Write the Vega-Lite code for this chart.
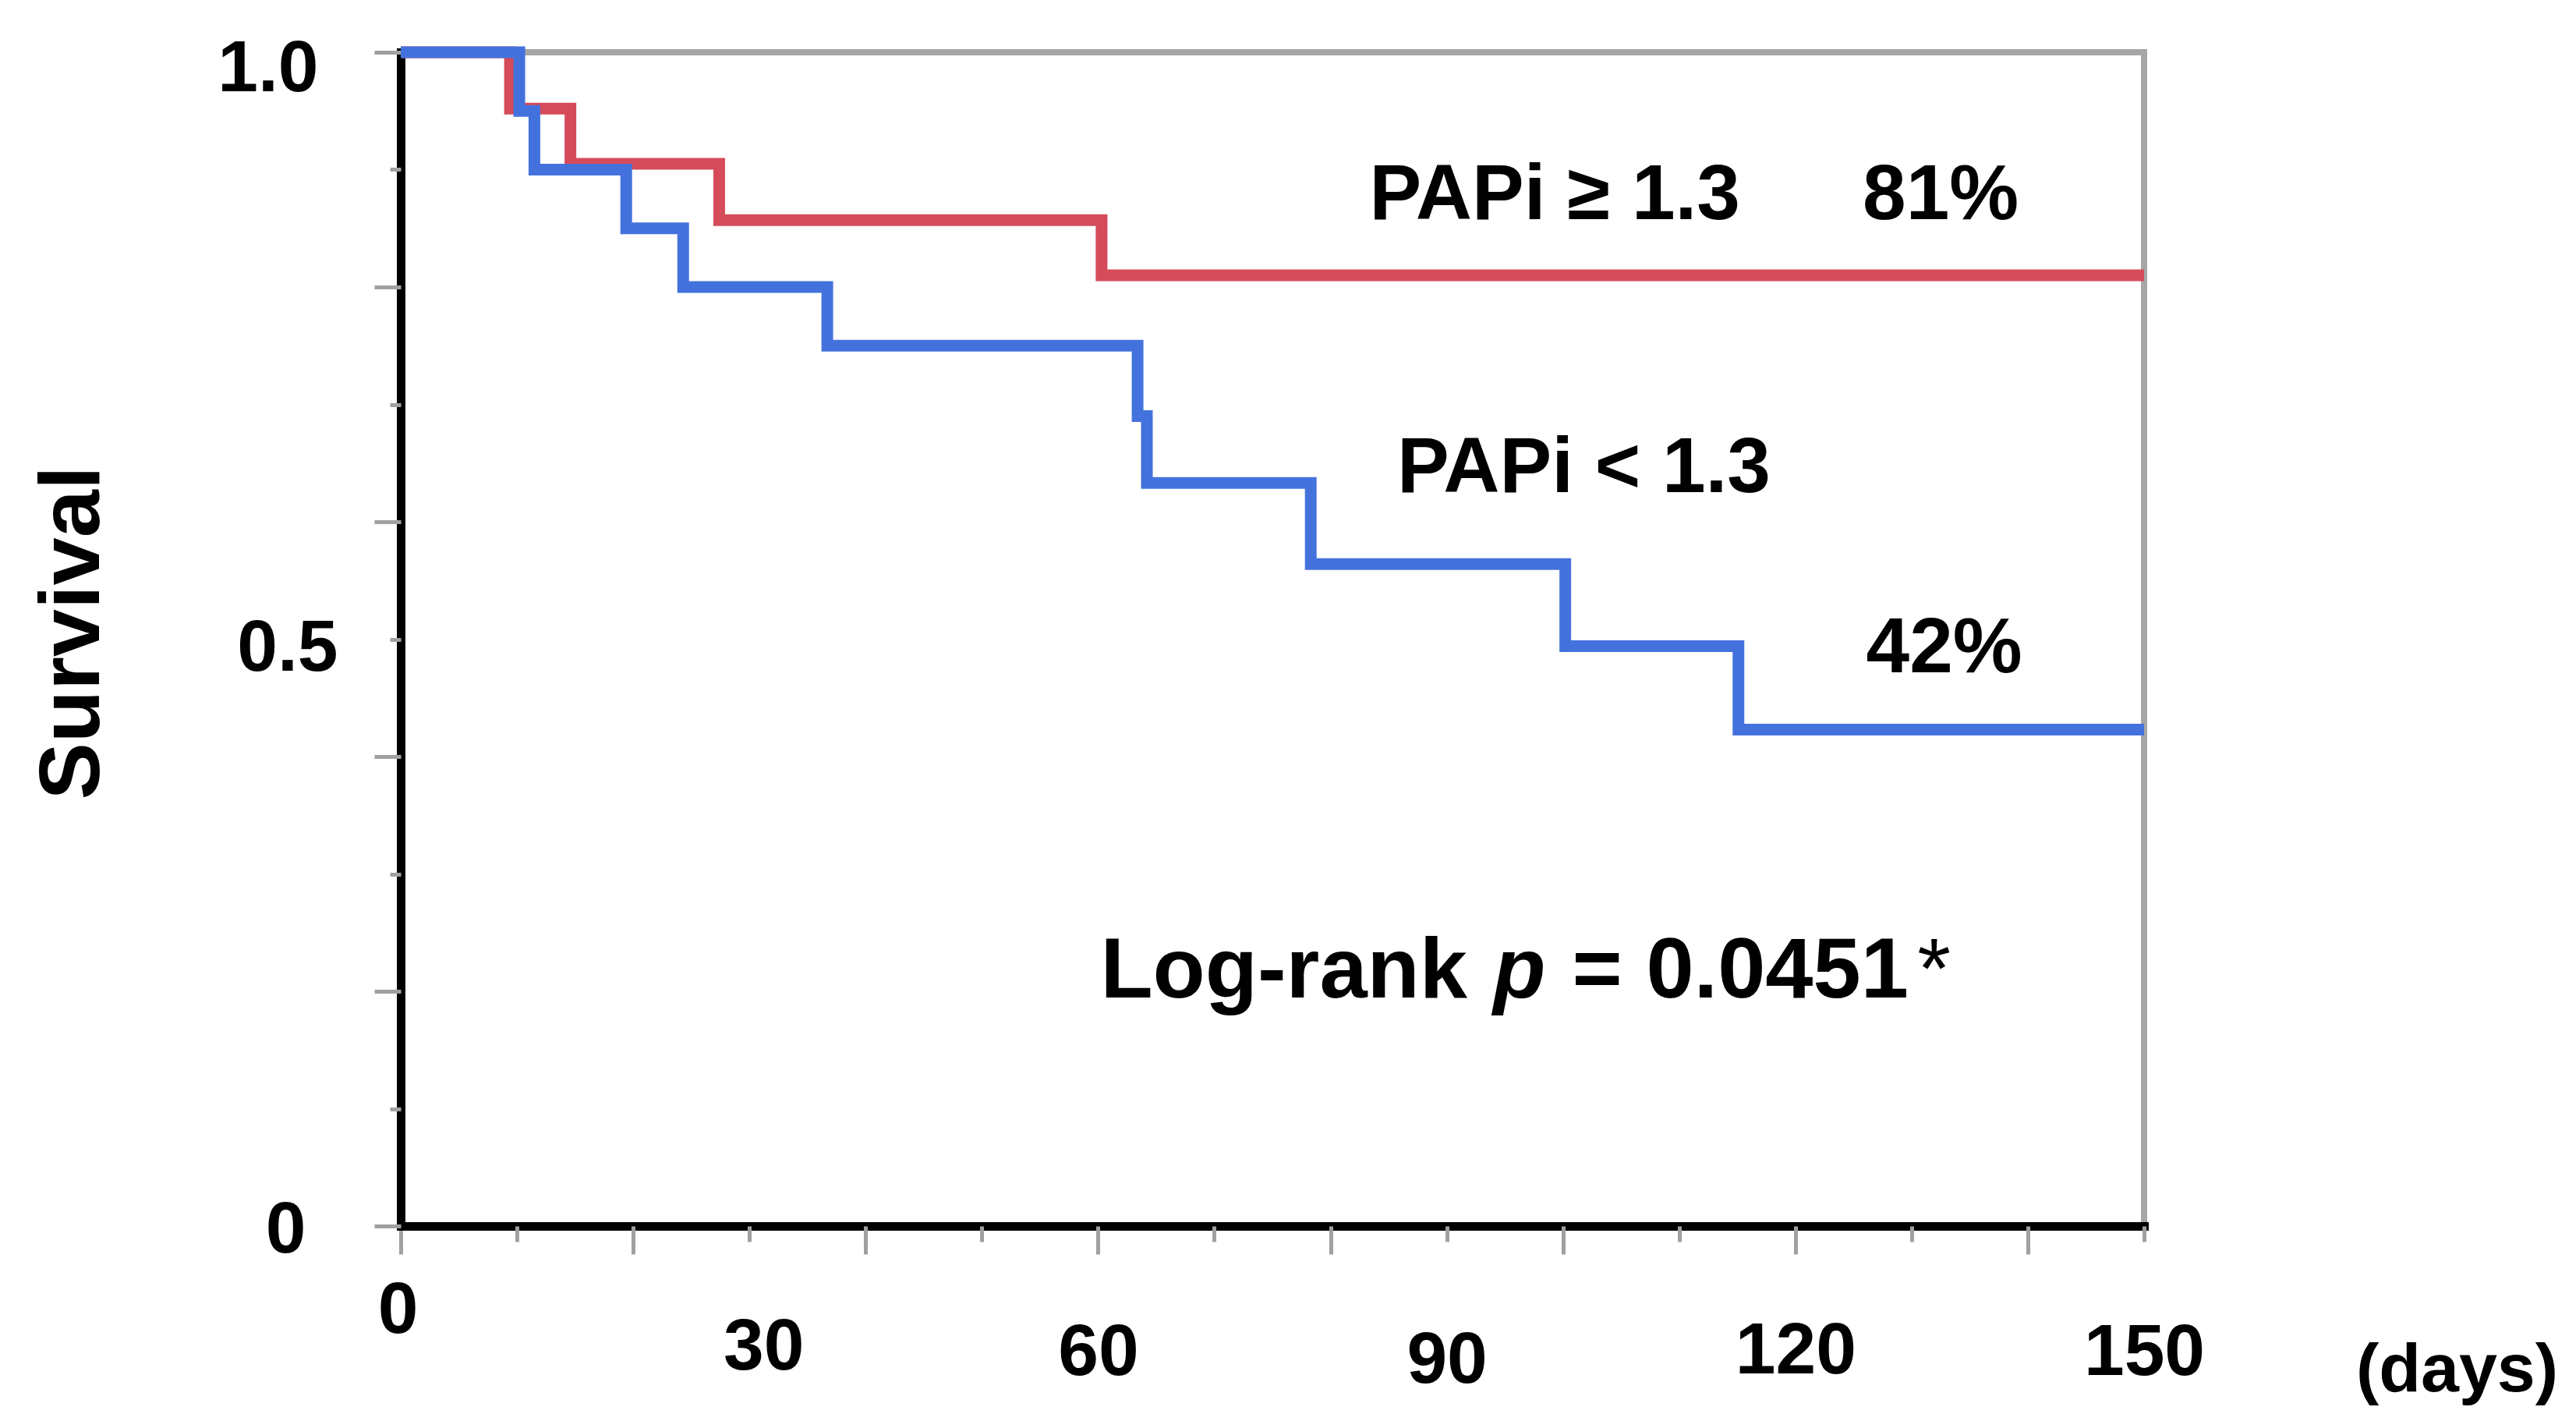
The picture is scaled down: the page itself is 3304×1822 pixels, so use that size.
{
  "$schema": "https://vega.github.io/schema/vega-lite/v6.json",
  "autosize": "none",
  "width": 2236,
  "height": 1505,
  "padding": {"left": 514, "top": 67, "right": 554, "bottom": 250},
  "background": "white",
  "config": {
    "view": {"stroke": "#A6A6A6", "strokeWidth": 8},
    "font": "Liberation Sans",
    "axis": {"grid": false, "labelFont": "Liberation Sans", "titleFont": "Liberation Sans"}
  },
  "datasets": {
    "km": [
      {"group": "PAPi ≥ 1.3", "day": 0, "surv": 1},
      {"group": "PAPi ≥ 1.3", "day": 9.4, "surv": 0.952},
      {"group": "PAPi ≥ 1.3", "day": 14.6, "surv": 0.905},
      {"group": "PAPi ≥ 1.3", "day": 27.4, "surv": 0.857},
      {"group": "PAPi ≥ 1.3", "day": 60.3, "surv": 0.81},
      {"group": "PAPi ≥ 1.3", "day": 150, "surv": 0.81},
      {"group": "PAPi < 1.3", "day": 0, "surv": 1},
      {"group": "PAPi < 1.3", "day": 10.2, "surv": 0.95},
      {"group": "PAPi < 1.3", "day": 11.5, "surv": 0.9},
      {"group": "PAPi < 1.3", "day": 19.4, "surv": 0.85},
      {"group": "PAPi < 1.3", "day": 24.3, "surv": 0.8},
      {"group": "PAPi < 1.3", "day": 36.7, "surv": 0.75},
      {"group": "PAPi < 1.3", "day": 63.4, "surv": 0.69},
      {"group": "PAPi < 1.3", "day": 64.2, "surv": 0.633},
      {"group": "PAPi < 1.3", "day": 78.3, "surv": 0.564},
      {"group": "PAPi < 1.3", "day": 100.2, "surv": 0.494},
      {"group": "PAPi < 1.3", "day": 115.1, "surv": 0.423},
      {"group": "PAPi < 1.3", "day": 150, "surv": 0.423}
    ],
    "notes": [
      {"day": 99.3, "surv": 0.858, "label": "PAPi ≥ 1.3"},
      {"day": 132.5, "surv": 0.858, "label": "81%"},
      {"day": 101.8, "surv": 0.625, "label": "PAPi < 1.3"},
      {"day": 132.8, "surv": 0.472, "label": "42%"}
    ],
    "logrank": [
      {"day": 60.2, "surv": 0.195, "label": "Log-rank"},
      {"day": 100.8, "surv": 0.195, "label": "= 0.0451"}
    ],
    "pval": [
      {"day": 94.0, "surv": 0.195, "label": "p"}
    ],
    "star": [
      {"day": 130.5, "surv": 0.195, "label": "*"}
    ]
  },
  "resolve": {"axis": {"x": "independent", "y": "independent"}},
  "layer": [
    {
      "data": {"name": "km"},
      "mark": {"type": "line", "interpolate": "step-after", "strokeWidth": 15, "strokeCap": "butt", "strokeJoin": "miter"},
      "encoding": {
        "x": {
          "field": "day", "type": "quantitative",
          "scale": {"domain": [0, 150], "nice": false, "zero": false},
          "axis": {
            "orient": "bottom",
            "values": [0, 30, 60, 90, 120, 150],
            "ticks": false, "tickSize": 0,
            "domain": true, "domainColor": "black", "domainWidth": 11, "domainCap": "square",
            "labelFlush": false, "labelOverlap": false,
            "labelFontSize": 93, "labelFontWeight": "bold", "labelColor": "black",
            "labelBaseline": "alphabetic",
            "labelPadding": {"condition": [
              {"test": "datum.value == 0", "value": 136},
              {"test": "datum.value == 30", "value": 183},
              {"test": "datum.value == 90", "value": 200},
              {"test": "datum.value == 120", "value": 188}
            ], "value": 190},
            "labelOffset": {"condition": [
              {"test": "datum.value == 30", "value": 18},
              {"test": "datum.value == 0", "value": -4}
            ], "value": 0},
            "title": "(days)", "titleFontSize": 88, "titleFontWeight": "bold", "titleColor": "black",
            "titleX": 2637, "titleY": 211, "titleAlign": "center", "titleBaseline": "alphabetic"
          }
        },
        "y": {
          "field": "surv", "type": "quantitative",
          "scale": {"domain": [0, 1], "nice": false, "zero": false},
          "axis": {
            "orient": "left",
            "values": [0, 0.5, 1],
            "labelExpr": "datum.value == 1 ? '1.0' : (datum.value == 0.5 ? '0.5' : '0')",
            "ticks": false, "tickSize": 0,
            "domain": true, "domainColor": "black", "domainWidth": 11, "domainCap": "square",
            "labelFlush": false, "labelOverlap": false,
            "labelFontSize": 93, "labelFontWeight": "bold", "labelColor": "black",
            "labelBaseline": "alphabetic", "labelAlign": "right",
            "labelPadding": {"condition": [
              {"test": "datum.value == 1", "value": 106},
              {"test": "datum.value == 0.5", "value": 81}
            ], "value": 122},
            "labelOffset": {"condition": [
              {"test": "datum.value == 1", "value": 49},
              {"test": "datum.value == 0.5", "value": 40}
            ], "value": 33},
            "title": "Survival", "titleFontSize": 110, "titleFontWeight": "bold", "titleColor": "black",
            "titleAngle": 270, "titleX": -388, "titleY": 744, "titleAlign": "center", "titleBaseline": "alphabetic"
          }
        },
        "color": {
          "field": "group", "type": "nominal",
          "scale": {"domain": ["PAPi ≥ 1.3", "PAPi < 1.3"], "range": ["#D54B5A", "#4472DD"]},
          "legend": null
        }
      }
    },
    {
      "data": {"name": "notes"},
      "mark": {"type": "text", "fontSize": 100, "fontWeight": "bold", "align": "center", "baseline": "alphabetic", "color": "black", "font": "Liberation Sans"},
      "encoding": {
        "x": {
          "field": "day", "type": "quantitative",
          "scale": {"domain": [0, 150], "nice": false, "zero": false},
          "axis": {
            "orient": "bottom",
            "values": [0, 10, 20, 30, 40, 50, 60, 70, 80, 90, 100, 110, 120, 130, 140, 150],
            "labels": false, "domain": false, "ticks": true,
            "tickColor": "#A0A0A0", "tickWidth": 5,
            "tickSize": {"condition": {"test": "datum.value % 20 == 0", "value": 36}, "value": 20},
            "title": null
          }
        },
        "y": {
          "field": "surv", "type": "quantitative",
          "scale": {"domain": [0, 1], "nice": false, "zero": false},
          "axis": {
            "orient": "left",
            "values": [0, 0.1, 0.2, 0.3, 0.4, 0.5, 0.6, 0.7, 0.8, 0.9, 1],
            "labels": false, "domain": false, "ticks": true,
            "tickColor": "#A0A0A0", "tickWidth": 5,
            "tickSize": {"condition": {"test": "round(datum.value * 10) % 2 == 0", "value": 34}, "value": 14},
            "title": null
          }
        },
        "text": {"field": "label", "type": "nominal"}
      }
    },
    {
      "data": {"name": "logrank"},
      "mark": {"type": "text", "fontSize": 110, "fontWeight": "bold", "align": "left", "baseline": "alphabetic", "color": "black", "font": "Liberation Sans"},
      "encoding": {
        "x": {"field": "day", "type": "quantitative", "scale": {"domain": [0, 150], "nice": false, "zero": false}, "axis": null},
        "y": {"field": "surv", "type": "quantitative", "scale": {"domain": [0, 1], "nice": false, "zero": false}, "axis": null},
        "text": {"field": "label", "type": "nominal"}
      }
    },
    {
      "data": {"name": "pval"},
      "mark": {"type": "text", "fontSize": 110, "fontWeight": "bold", "fontStyle": "italic", "align": "left", "baseline": "alphabetic", "color": "black", "font": "Liberation Sans"},
      "encoding": {
        "x": {"field": "day", "type": "quantitative", "scale": {"domain": [0, 150], "nice": false, "zero": false}, "axis": null},
        "y": {"field": "surv", "type": "quantitative", "scale": {"domain": [0, 1], "nice": false, "zero": false}, "axis": null},
        "text": {"field": "label", "type": "nominal"}
      }
    },
    {
      "data": {"name": "star"},
      "mark": {"type": "text", "fontSize": 110, "fontWeight": "normal", "align": "left", "baseline": "alphabetic", "color": "black", "font": "Liberation Sans"},
      "encoding": {
        "x": {"field": "day", "type": "quantitative", "scale": {"domain": [0, 150], "nice": false, "zero": false}, "axis": null},
        "y": {"field": "surv", "type": "quantitative", "scale": {"domain": [0, 1], "nice": false, "zero": false}, "axis": null},
        "text": {"field": "label", "type": "nominal"}
      }
    }
  ]
}
